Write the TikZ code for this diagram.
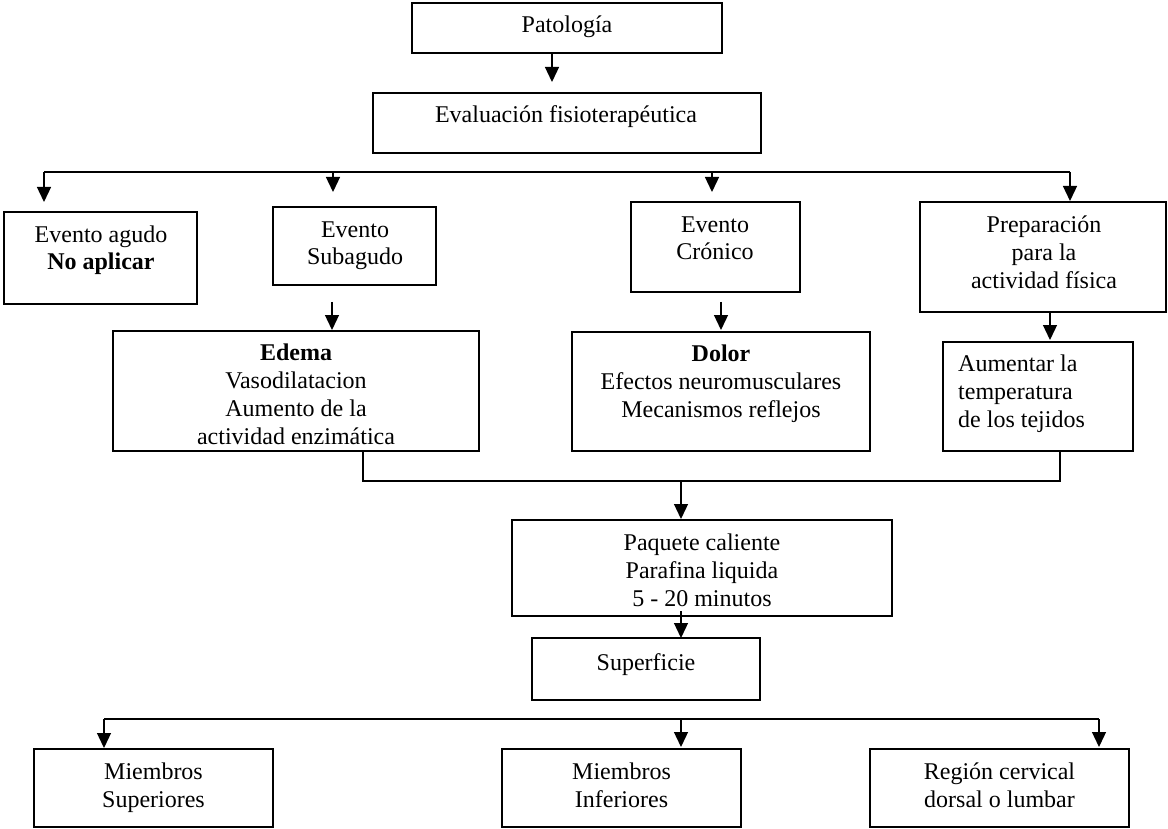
\documentclass[tikz,border=0pt]{standalone}
\usepackage{fontspec}
\setmainfont{Liberation Serif}
\usetikzlibrary{arrows.meta,fit}
\begin{document}
\begin{tikzpicture}[x=1pt,y=-1pt,
  box/.style={draw, line width=1.6pt, inner sep=0pt},
  % anchor=base sits on the baseline of the last line
  txt/.style={align=center, inner sep=0pt, anchor=base,
    font=\fontsize{24}{27.8}\selectfont},
  link/.style={line width=1.3pt},
  arr/.style={link, -{Triangle[width=14pt,length=15pt]}},
]
\useasboundingbox (0,0) rectangle (1168,829);

% boxes
\node[box, fit={(412,3) (722,53)}]    (pat) {};
\node[box, fit={(373,93) (761,153)}]  (eva) {};
\node[box, fit={(4,212) (197,304)}]   (agu) {};
\node[box, fit={(273,207) (436,285)}] (sub) {};
\node[box, fit={(631,202) (800,292)}] (cro) {};
\node[box, fit={(920,202) (1166,312)}] (pre) {};
\node[box, fit={(113,331) (479,451)}] (ede) {};
\node[box, fit={(572,332) (870,451)}] (dol) {};
\node[box, fit={(943,342) (1133,451)}] (aum) {};
\node[box, fit={(512,520) (892,616)}] (paq) {};
\node[box, fit={(532,638) (760,700)}] (sup) {};
\node[box, fit={(34,749) (273,827)}]  (msu) {};
\node[box, fit={(502,749) (741,827)}] (min) {};
\node[box, fit={(870,749) (1129,827)}] (reg) {};

% texts (positions give the baseline of the last line)
\node[txt] (pat-t) at (567,33)  {Patología};
\node[txt] (eva-t) at (566,123) {Evaluación fisioterapéutica};
\node[txt] (agu-t) at (101,270) {Evento agudo\\\textbf{No aplicar}};
\node[txt] (sub-t) at (355,265) {Evento\\Subagudo};
\node[txt] (cro-t) at (715,260) {Evento\\Crónico};
\node[txt] (pre-t) at (1044,288) {Preparación\\para la\\actividad física};
\node[txt] (ede-t) at (296,444) {\textbf{Edema}\\Vasodilatacion\\Aumento de la\\actividad enzimática};
\node[txt] (dol-t) at (721,417) {\textbf{Dolor}\\Efectos neuromusculares\\Mecanismos reflejos};
\node[txt, align=left, anchor=base west] (aum-t) at (958,427) {Aumentar la\\temperatura\\de los tejidos};
\node[txt] (paq-t) at (702,606) {Paquete caliente\\Parafina liquida\\5 - 20 minutos};
\node[txt] (sup-t) at (646,670) {Superficie};
\node[txt] (msu-t) at (153.5,807) {Miembros\\Superiores};
\node[txt] (min-t) at (621.5,807) {Miembros\\Inferiores};
\node[txt] (reg-t) at (999.5,807) {Región cervical\\dorsal o lumbar};

% arrow ends and junctions
\coordinate (e1) at (552,82);
\coordinate (bus1) at (0,172);
\coordinate (t1) at (44,202);
\coordinate (t2) at (333,192);
\coordinate (t3) at (712,192);
\coordinate (t4) at (1070,201);
\coordinate (s2) at (332,302);
\coordinate (u2) at (332,330);
\coordinate (s3) at (721,302);
\coordinate (u3) at (721,330);
\coordinate (u4) at (1050,340);
\coordinate (mL) at (363,481);
\coordinate (mR) at (1060,481);
\coordinate (mC) at (681,481);
\coordinate (u5) at (681,519);
\coordinate (s6) at (681,611);
\coordinate (u6) at (681,638);
\coordinate (bus2) at (0,719);
\coordinate (b1) at (104,748);
\coordinate (b2) at (681,747);
\coordinate (b3) at (1099,747);

% connectors
\draw[arr] (pat.south -| e1) -- (e1);

\draw[link] (t1 |- bus1) -- (t4 |- bus1);
\foreach \t in {t1,t2,t3,t4} \draw[arr] (\t |- bus1) -- (\t);

\draw[arr] (s2) -- (u2);
\draw[arr] (s3) -- (u3);
\draw[arr] (pre.south -| u4) -- (u4);

\draw[link] (ede.south -| mL) -- (mL) -- (mR) -- (aum.south -| mR);
\draw[arr] (mC) -- (u5);
\draw[arr] (s6) -- (u6);

\draw[link] (b1 |- bus2) -- (b3 |- bus2);
\foreach \b in {b1,b2,b3} \draw[arr] (\b |- bus2) -- (\b);
\end{tikzpicture}
\end{document}
